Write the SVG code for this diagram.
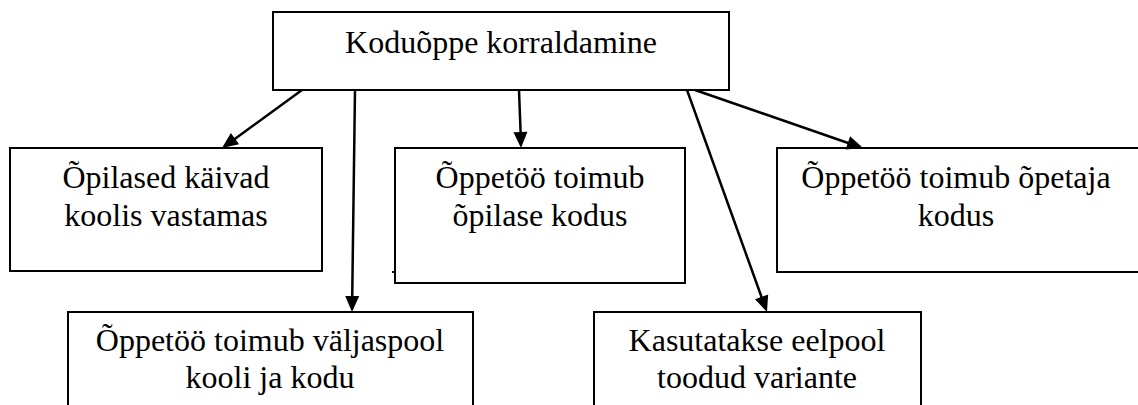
<svg xmlns="http://www.w3.org/2000/svg" width="1138" height="405" viewBox="0 0 1138 405">
<style>
.box{fill:#fff;stroke:#000;stroke-width:2}
.t{font-family:"Liberation Serif","Times New Roman",serif;font-size:32px;fill:#000;text-anchor:middle}
.c{stroke:#000;stroke-width:2.5;fill:none}
.h{fill:#000;stroke:none}
</style>
<defs>
<path id="head" d="M0,0 L-16,-7 L-16,7 z"/>
</defs>
<rect width="1138" height="405" fill="#fff"/>
<g id="n-root">
<rect class="box" x="273" y="12" width="456" height="78"/>
<text class="t" x="501" y="53">Koduõppe korraldamine</text>
</g>
<g id="n-koolis">
<rect class="box" x="10" y="148" width="312" height="123"/>
<text class="t" x="166" y="188">Õpilased käivad</text>
<text class="t" x="166" y="226">koolis vastamas</text>
</g>
<g id="n-opilase">
<rect class="box" x="395" y="148" width="290" height="135"/>
<text class="t" x="540" y="188">Õppetöö toimub</text>
<text class="t" x="540" y="226">õpilase kodus</text>
</g>
<g id="n-opetaja">
<rect class="box" x="777" y="148" width="364" height="124"/>
<text class="t" x="956" y="188">Õppetöö toimub õpetaja</text>
<text class="t" x="956" y="226">kodus</text>
</g>
<g id="n-valjaspool">
<rect class="box" x="68" y="312" width="405" height="110"/>
<text class="t" x="270" y="351">Õppetöö toimub väljaspool</text>
<text class="t" x="270" y="388">kooli ja kodu</text>
</g>
<g id="n-variante">
<rect class="box" x="594" y="312" width="327" height="110"/>
<text class="t" x="757" y="351">Kasutatakse eelpool</text>
<text class="t" x="757" y="388">toodud variante</text>
</g>
<g id="connectors">
<line class="c" x1="302" y1="90" x2="232" y2="141"/>
<use href="#head" class="h" transform="translate(222,148) rotate(144.06)"/>
<line class="c" x1="355" y1="90" x2="352.2" y2="298"/>
<use href="#head" class="h" transform="translate(352,312) rotate(90.77)"/>
<line class="c" x1="519" y1="90" x2="520.7" y2="135"/>
<use href="#head" class="h" transform="translate(521,148) rotate(88.02)"/>
<line class="c" x1="687" y1="90" x2="762.6" y2="300"/>
<use href="#head" class="h" transform="translate(767,312) rotate(70.14)"/>
<line class="c" x1="695" y1="90" x2="851" y2="144"/>
<use href="#head" class="h" transform="translate(863,148) rotate(18.74)"/>
</g>
<rect x="392" y="271" width="2" height="2" fill="#000"/>
</svg>
